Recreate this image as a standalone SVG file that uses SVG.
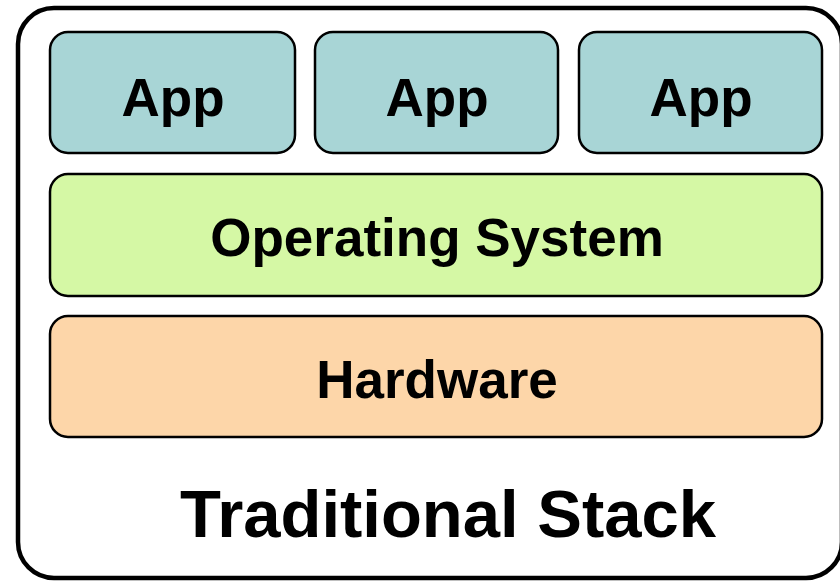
<svg xmlns="http://www.w3.org/2000/svg" width="840" height="581" viewBox="0 0 840 581">
<style>
.box{stroke:#000;stroke-width:2.5}
.t{font-family:"Liberation Sans",Arial,sans-serif;font-weight:bold;font-size:53px;text-anchor:middle;fill:#000}
</style>
<rect width="840" height="581" fill="#fff"/>
<g id="stack">
<rect x="18" y="8" width="824" height="570" rx="36" fill="#fff" stroke="#000" stroke-width="4.5"/>
<text class="t" x="448" y="537" style="font-size:67px">Traditional Stack</text>
</g>
<g id="app1"><rect class="box" x="50" y="32" width="245" height="121" rx="18" fill="#A8D5D6"/><text class="t" x="173" y="116">App</text></g>
<g id="app2"><rect class="box" x="315" y="32" width="243" height="121" rx="18" fill="#A8D5D6"/><text class="t" x="437" y="116">App</text></g>
<g id="app3"><rect class="box" x="579" y="32" width="243" height="121" rx="18" fill="#A8D5D6"/><text class="t" x="701" y="116">App</text></g>
<g id="os"><rect class="box" x="50" y="174" width="772" height="122" rx="18" fill="#D5F8A5"/><text class="t" x="437" y="256">Operating System</text></g>
<g id="hw"><rect class="box" x="50" y="316" width="772" height="121" rx="18" fill="#FDD6A9"/><text class="t" x="437" y="398">Hardware</text></g>
<g id="connectors"></g>
</svg>
